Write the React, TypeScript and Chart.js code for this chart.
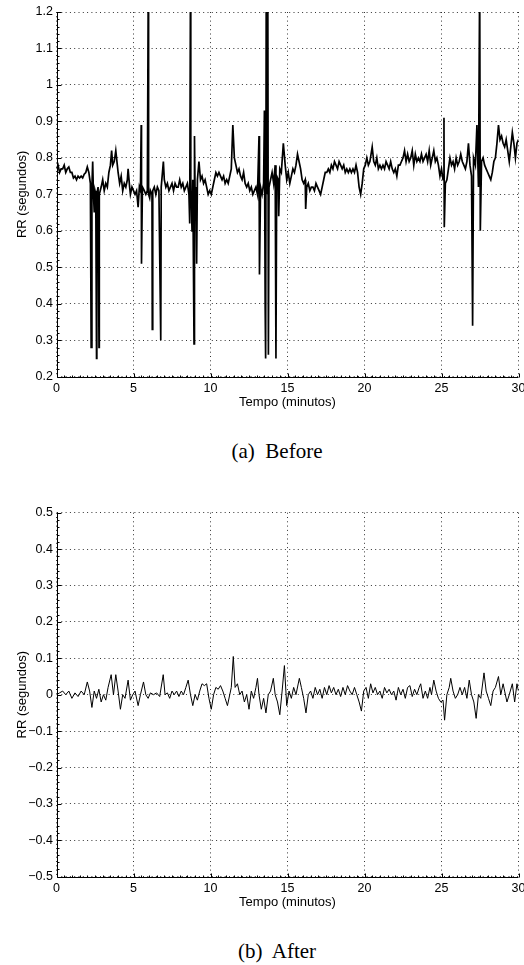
import React, { useEffect, useRef } from "react";
import { Chart, registerables } from "chart.js";

Chart.register(...registerables);

// ---------- DATA ----------
const xTickValues = [0, 5, 10, 15, 20, 25, 30];
const beforeYTicks = [0.2, 0.3, 0.4, 0.5, 0.6, 0.7, 0.8, 0.9, 1.0, 1.1, 1.2];
const afterYTicks = [-0.5, -0.4, -0.3, -0.2, -0.1, 0, 0.1, 0.2, 0.3, 0.4, 0.5];
const xAxisTitle = "Tempo (minutos)";
const yAxisTitle = "RR (segundos)";
const captionBefore = "(a)  Before";
const captionAfter = "(b)  After";

const beforeMinutes = [
  0.0, 0.1, 0.2, 0.3, 0.4, 0.5, 0.6, 0.7, 0.8, 0.9,
  1.0, 1.1, 1.2, 1.3, 1.4, 1.5, 1.6, 1.7, 1.8, 1.9,
  2.0, 2.1, 2.2, 2.25, 2.3, 2.35, 2.4, 2.45, 2.5, 2.55,
  2.6, 2.62, 2.7, 2.76, 2.78, 2.9, 3.0, 3.1, 3.2, 3.3,
  3.4, 3.5, 3.58, 3.65, 3.75, 3.85, 3.95, 4.0, 4.1, 4.2,
  4.3, 4.4, 4.5, 4.6, 4.65, 4.75, 4.8, 4.9, 5.0, 5.1,
  5.2, 5.3, 5.38, 5.45, 5.5, 5.52, 5.58, 5.7, 5.8, 5.9,
  5.96, 5.98, 6.05, 6.1, 6.2, 6.22, 6.25, 6.35, 6.45, 6.55,
  6.65, 6.77, 6.8, 6.94, 7.0, 7.1, 7.2, 7.3, 7.4, 7.5,
  7.6, 7.7, 7.8, 7.9, 8.0, 8.1, 8.2, 8.3, 8.4, 8.5,
  8.6, 8.65, 8.7, 8.72, 8.8, 8.85, 8.93, 8.96, 9.0, 9.05,
  9.1, 9.15, 9.25, 9.35, 9.45, 9.55, 9.65, 9.75, 9.85, 9.95,
  10.05, 10.15, 10.25, 10.35, 10.45, 10.55, 10.65, 10.75, 10.85, 10.95,
  11.05, 11.15, 11.25, 11.35, 11.45, 11.55, 11.65, 11.75, 11.85, 11.95,
  12.05, 12.15, 12.25, 12.35, 12.45, 12.55, 12.65, 12.75, 12.85, 12.95,
  13.05, 13.15, 13.18, 13.25, 13.35, 13.45, 13.5, 13.55, 13.58, 13.62,
  13.66, 13.72, 13.76, 13.8, 13.9, 14.0, 14.1, 14.2, 14.25, 14.3,
  14.4, 14.43, 14.5, 14.6, 14.73, 14.85, 14.95, 15.05, 15.15, 15.25,
  15.35, 15.45, 15.55, 15.65, 15.75, 15.85, 15.95, 16.05, 16.15, 16.18,
  16.25, 16.35, 16.45, 16.55, 16.65, 16.75, 16.85, 16.95, 17.05, 17.15,
  17.25, 17.35, 17.45, 17.55, 17.65, 17.75, 17.85, 17.95, 18.05, 18.15,
  18.25, 18.35, 18.45, 18.55, 18.65, 18.75, 18.85, 18.95, 19.05, 19.15,
  19.25, 19.35, 19.45, 19.55, 19.65, 19.75, 19.85, 19.95, 20.05, 20.15,
  20.25, 20.35, 20.5, 20.6, 20.7, 20.8, 20.9, 21.0, 21.1, 21.2,
  21.3, 21.4, 21.5, 21.6, 21.7, 21.8, 21.9, 22.0, 22.1, 22.2,
  22.3, 22.4, 22.5, 22.6, 22.7, 22.8, 22.9, 23.0, 23.1, 23.2,
  23.3, 23.4, 23.5, 23.6, 23.7, 23.8, 23.9, 24.0, 24.1, 24.2,
  24.3, 24.4, 24.5, 24.6, 24.7, 24.8, 24.9, 25.0, 25.1, 25.16,
  25.18, 25.25, 25.35, 25.45, 25.55, 25.65, 25.75, 25.85, 25.95, 26.05,
  26.15, 26.25, 26.35, 26.45, 26.55, 26.65, 26.75, 26.85, 26.95, 27.02,
  27.08, 27.2, 27.3, 27.4, 27.48, 27.52, 27.6, 27.7, 27.8, 27.9,
  28.0, 28.1, 28.2, 28.3, 28.4, 28.5, 28.6, 28.7, 28.8, 28.9,
  29.0, 29.1, 29.2, 29.3, 29.4, 29.5, 29.6, 29.7, 29.8, 29.9,
  30.0,
];

const beforeRR = [
  0.77, 0.78, 0.76, 0.77, 0.77, 0.78, 0.76, 0.77, 0.775, 0.76,
  0.76, 0.745, 0.75, 0.74, 0.75, 0.745, 0.75, 0.745, 0.755, 0.76,
  0.775, 0.76, 0.73, 0.28, 0.72, 0.79, 0.70, 0.65, 0.71, 0.70,
  0.25, 0.70, 0.72, 0.28, 0.70, 0.72, 0.74, 0.71, 0.73, 0.72,
  0.76, 0.78, 0.82, 0.78, 0.79, 0.82, 0.78, 0.76, 0.73, 0.75,
  0.71, 0.73, 0.72, 0.74, 0.77, 0.72, 0.70, 0.72, 0.71, 0.70,
  0.71, 0.665, 0.72, 0.71, 0.89, 0.51, 0.72, 0.71, 0.70, 0.71,
  1.3, 0.70, 0.69, 0.71, 0.70, 0.33, 0.71, 0.72, 0.70, 0.72,
  0.71, 0.30, 0.72, 0.79, 0.74, 0.72, 0.73, 0.71, 0.72, 0.73,
  0.71, 0.73, 0.72, 0.72, 0.74, 0.72, 0.73, 0.71, 0.72, 0.73,
  0.70, 0.62, 1.3, 0.74, 0.60, 0.74, 0.29, 0.86, 0.70, 0.72,
  0.51, 0.74, 0.79, 0.74, 0.75, 0.73, 0.74, 0.72, 0.70, 0.71,
  0.70, 0.72, 0.74, 0.76, 0.75, 0.76, 0.75, 0.74, 0.75, 0.73,
  0.74, 0.73, 0.75, 0.77, 0.89, 0.80, 0.78, 0.76, 0.77, 0.75,
  0.74, 0.76, 0.73, 0.72, 0.73, 0.71, 0.72, 0.70, 0.71, 0.72,
  0.70, 0.86, 0.48, 0.72, 0.70, 0.73, 0.93, 0.39, 0.25, 1.3,
  0.70, 1.3, 0.26, 0.72, 0.74, 0.76, 0.73, 0.78, 0.25, 0.75,
  0.74, 0.64, 0.77, 0.76, 0.84, 0.78, 0.74, 0.76, 0.73, 0.75,
  0.77, 0.76, 0.78, 0.81, 0.79, 0.77, 0.74, 0.73, 0.74, 0.66,
  0.72, 0.73, 0.71, 0.72, 0.72, 0.71, 0.73, 0.72, 0.71, 0.70,
  0.72, 0.74, 0.76, 0.76, 0.77, 0.76, 0.78, 0.77, 0.79, 0.78,
  0.77, 0.79, 0.78, 0.77, 0.78, 0.76, 0.77, 0.76, 0.77, 0.76,
  0.77, 0.76, 0.78, 0.76, 0.72, 0.70, 0.73, 0.77, 0.78, 0.80,
  0.78, 0.79, 0.83, 0.79, 0.78, 0.80, 0.77, 0.78, 0.77, 0.78,
  0.77, 0.79, 0.78, 0.77, 0.79, 0.77, 0.76, 0.77, 0.75, 0.78,
  0.78, 0.79, 0.80, 0.82, 0.79, 0.81, 0.79, 0.80, 0.82, 0.78,
  0.81, 0.79, 0.80, 0.79, 0.81, 0.79, 0.80, 0.81, 0.79, 0.82,
  0.78, 0.80, 0.82, 0.79, 0.80, 0.78, 0.75, 0.77, 0.74, 0.91,
  0.61, 0.73, 0.74, 0.77, 0.80, 0.78, 0.79, 0.77, 0.80, 0.78,
  0.79, 0.81, 0.79, 0.78, 0.77, 0.79, 0.84, 0.78, 0.75, 0.34,
  0.80, 0.78, 0.89, 0.72, 1.3, 0.60, 0.79, 0.80, 0.78, 0.77,
  0.76, 0.75, 0.74, 0.76, 0.79, 0.80, 0.84, 0.89, 0.85, 0.86,
  0.84, 0.83, 0.85, 0.82, 0.79, 0.83, 0.87, 0.84, 0.80, 0.84,
  0.85,
];

const afterMinutes = [
  0.0, 0.2, 0.4, 0.6, 0.8, 1.0, 1.2, 1.4, 1.6, 1.8,
  2.0, 2.15, 2.3, 2.45, 2.6, 2.75, 2.9, 3.05, 3.2, 3.35,
  3.55, 3.7, 3.85, 4.0, 4.15, 4.3, 4.45, 4.65, 4.8, 4.95,
  5.1, 5.3, 5.45, 5.65, 5.8, 5.95, 6.1, 6.3, 6.5, 6.7,
  6.93, 7.05, 7.2, 7.35, 7.5, 7.65, 7.8, 7.95, 8.1, 8.25,
  8.4, 8.55, 8.7, 8.85, 9.0, 9.15, 9.3, 9.45, 9.6, 9.75,
  9.9, 10.05, 10.2, 10.35, 10.5, 10.65, 10.8, 10.95, 11.1, 11.25,
  11.35, 11.48, 11.6, 11.75, 11.9, 12.05, 12.2, 12.35, 12.5, 12.65,
  12.8, 12.95, 13.05, 13.15, 13.3, 13.45, 13.6, 13.75, 13.9, 14.08,
  14.2, 14.35, 14.5, 14.65, 14.8, 14.95, 15.1, 15.25, 15.4, 15.55,
  15.77, 15.9, 16.05, 16.2, 16.35, 16.5, 16.65, 16.8, 16.95, 17.1,
  17.25, 17.4, 17.55, 17.7, 17.85, 18.0, 18.15, 18.3, 18.45, 18.6,
  18.75, 18.9, 19.05, 19.2, 19.35, 19.5, 19.65, 19.8, 19.95, 20.1,
  20.25, 20.4, 20.55, 20.7, 20.85, 21.0, 21.15, 21.3, 21.45, 21.6,
  21.75, 21.9, 22.05, 22.2, 22.35, 22.5, 22.65, 22.8, 22.95, 23.1,
  23.25, 23.4, 23.55, 23.65, 23.8, 23.95, 24.1, 24.25, 24.35, 24.5,
  24.65, 24.8, 24.95, 25.1, 25.2, 25.35, 25.5, 25.6, 25.75, 25.9,
  26.05, 26.2, 26.35, 26.5, 26.65, 26.8, 26.95, 27.1, 27.25, 27.4,
  27.55, 27.76, 27.9, 28.05, 28.2, 28.35, 28.5, 28.7, 28.85, 29.0,
  29.1, 29.25, 29.4, 29.6, 29.75, 29.9, 30.0,
];

const afterRR = [
  0.0, 0.005, 0.01, 0.0, 0.01, -0.01, 0.005, -0.005, 0.01, 0.0,
  0.035, 0.01, -0.035, 0.01, -0.01, 0.015, -0.02, 0.0, -0.015, 0.02,
  0.055, 0.0, 0.055, 0.01, -0.04, 0.0, -0.01, 0.04, -0.015, 0.0,
  0.01, -0.03, 0.0, 0.035, 0.0, -0.01, 0.005, 0.0, 0.005, -0.005,
  0.055, 0.0, 0.005, -0.01, 0.01, 0.0, 0.01, -0.005, 0.01, 0.0,
  0.02, 0.04, 0.0, -0.03, 0.0, -0.015, 0.01, 0.03, 0.025, 0.03,
  -0.01, -0.04, 0.0, 0.02, 0.015, 0.025, 0.01, -0.01, -0.03, 0.0,
  0.02, 0.105, 0.02, 0.03, 0.0, 0.01, -0.02, 0.0, -0.04, 0.01,
  -0.01, 0.02, 0.045, 0.0, -0.04, -0.01, -0.05, 0.0, 0.01, 0.045,
  0.0, -0.02, -0.055, 0.01, 0.08, -0.03, 0.01, -0.01, 0.02, 0.0,
  0.045, 0.02, -0.01, -0.05, 0.0, 0.01, -0.01, 0.02, 0.0, 0.015,
  -0.01, 0.02, 0.0, 0.025, 0.005, 0.02, 0.0, 0.015, -0.005, 0.02,
  0.0, 0.025, 0.01, 0.0, 0.02, 0.0, -0.02, -0.045, 0.01, 0.02,
  -0.01, 0.03, 0.005, 0.02, 0.0, 0.01, -0.01, 0.02, 0.005, 0.015,
  0.0, 0.01, -0.015, 0.02, 0.0, 0.015, -0.01, 0.02, 0.025, -0.005,
  0.015, 0.0, 0.02, 0.03, -0.01, 0.01, -0.01, 0.02, 0.0, 0.04,
  0.01, -0.01, -0.02, -0.015, -0.07, 0.0, 0.02, 0.045, 0.01, -0.01,
  0.0, 0.02, 0.0, 0.02, -0.01, 0.04, 0.0, -0.02, -0.065, 0.0,
  -0.01, 0.06, 0.01, -0.01, -0.03, 0.01, 0.02, 0.05, 0.0, 0.03,
  0.01, -0.02, 0.0, 0.03, -0.02, 0.03, 0.01,
];

// ---------- STYLE ----------
const SANS = "'Liberation Sans', Arial, Helvetica, sans-serif";
const SERIF = "'Liberation Serif', 'Times New Roman', Times, serif";
const CANVAS_W = 524;
const CANVAS_H = 420;

function formatTick(v: number): string {
  const r = Math.round(v * 10) / 10;
  const s = String(r);
  return s.replace("-", "\u2212");
}

const axisPlugin = {
  id: "matlabAxes",
  afterDraw(chart: any) {
    const { ctx, chartArea, scales } = chart;
    const { left, right, top, bottom } = chartArea;
    const x = scales.x;
    const y = scales.y;
    const L = Math.round(left) + 0.5;
    const B = Math.round(bottom) + 0.5;
    ctx.save();
    ctx.strokeStyle = "#000";
    ctx.lineWidth = 1;
    ctx.setLineDash([]);
    ctx.beginPath();
    ctx.moveTo(L, top);
    ctx.lineTo(L, B);
    ctx.lineTo(right, B);
    ctx.stroke();
    const xMinorStep = chart.options.plugins.matlabAxes.xMinor;
    const yMinorStep = chart.options.plugins.matlabAxes.yMinor;
    const xMajorStep = chart.options.plugins.matlabAxes.xMajor;
    const yMajorStep = chart.options.plugins.matlabAxes.yMajor;
    ctx.beginPath();
    const nx = Math.round((x.max - x.min) / xMinorStep);
    for (let i = 0; i <= nx; i++) {
      const v = x.min + i * xMinorStep;
      const px = Math.round(x.getPixelForValue(v)) + 0.5;
      const isMajor = Math.abs(v / xMajorStep - Math.round(v / xMajorStep)) < 1e-6;
      const len = isMajor ? 4 : 2;
      ctx.moveTo(px, B);
      ctx.lineTo(px, B - len);
    }
    const ny = Math.round((y.max - y.min) / yMinorStep);
    for (let i = 0; i <= ny; i++) {
      const v = y.min + i * yMinorStep;
      const py = Math.round(y.getPixelForValue(v)) + 0.5;
      const q = (v - y.min) / yMajorStep;
      const isMajor = Math.abs(q - Math.round(q)) < 1e-6;
      const len = isMajor ? 4 : 2;
      ctx.moveTo(L, py);
      ctx.lineTo(L + len, py);
    }
    ctx.stroke();
    ctx.restore();
  },
};

function buildConfig(
  times: number[],
  values: number[],
  yTicks: number[],
  lineWidth: number,
  padTop: number
): any {
  const points = times.map((t, i) => ({ x: t, y: values[i] }));
  const gridStyle = {
    display: true,
    color: "rgba(0,0,0,0.8)",
    lineWidth: 1,
    drawTicks: false,
    tickLength: 0,
  };
  const border = { display: false, color: "#000", width: 1, dash: [1, 3.3] };
  return {
    type: "line",
    data: {
      datasets: [
        {
          data: points,
          borderColor: "#000",
          borderWidth: lineWidth,
          pointRadius: 0,
          tension: 0,
          fill: false,
        },
      ],
    },
    plugins: [axisPlugin],
    options: {
      responsive: false,
      animation: false,
      events: [],
      layout: { padding: { top: padTop, right: 5.5, left: 0, bottom: 0 } },
      plugins: {
        legend: { display: false },
        tooltip: { enabled: false },
        matlabAxes: {
          xMinor: 0.5,
          xMajor: 5,
          yMinor: 0.02,
          yMajor: 0.1,
        },
      },
      scales: {
        x: {
          type: "linear",
          min: xTickValues[0],
          max: xTickValues[xTickValues.length - 1],
          afterBuildTicks: (s: any) => {
            s.ticks = xTickValues.map((v) => ({ value: v }));
          },
          afterFit: (s: any) => {
            s.height = CANVAS_H - 376.7 + 12 - padTop + (padTop - 12);
            s.paddingLeft = 0;
            s.paddingRight = 0;
          },
          grid: gridStyle,
          border,
          ticks: {
            color: "#000",
            font: { family: SANS, size: 12.5 },
            padding: 4,
            maxRotation: 0,
            autoSkip: false,
            callback: (v: number) => formatTick(v),
          },
          title: {
            display: true,
            text: xAxisTitle,
            color: "#000",
            font: { family: SANS, size: 13 },
            padding: { top: 0, bottom: 10.2 },
          },
        },
        y: {
          type: "linear",
          min: yTicks[0],
          max: yTicks[yTicks.length - 1],
          afterBuildTicks: (s: any) => {
            s.ticks = yTicks.map((v) => ({ value: v }));
          },
          afterFit: (s: any) => {
            s.width = 56.5;
            s.paddingTop = 0;
            s.paddingBottom = 0;
          },
          grid: gridStyle,
          border,
          ticks: {
            color: "#000",
            font: { family: SANS, size: 12.5 },
            padding: 3.5,
            autoSkip: false,
            callback: (v: number) => formatTick(v),
          },
          title: {
            display: true,
            text: yAxisTitle,
            color: "#000",
            font: { family: SANS, size: 13 },
            padding: { top: 14.2, bottom: 0 },
          },
        },
      },
    },
  };
}

function Panel(props: {
  top: number;
  times: number[];
  values: number[];
  yTicks: number[];
  lineWidth: number;
  padTop: number;
}) {
  const ref = useRef<HTMLCanvasElement | null>(null);
  useEffect(() => {
    if (!ref.current) return;
    const chart = new Chart(
      ref.current,
      buildConfig(props.times, props.values, props.yTicks, props.lineWidth, props.padTop)
    );
    return () => chart.destroy();
  }, []);
  return (
    <canvas
      ref={ref}
      width={CANVAS_W}
      height={CANVAS_H}
      style={{
        position: "absolute",
        left: 0,
        top: props.top,
        width: CANVAS_W,
        height: CANVAS_H,
      }}
    />
  );
}

function Caption(props: { text: string; cy: number }) {
  return (
    <div
      style={{
        position: "absolute",
        left: 277,
        top: props.cy,
        transform: "translate(-50%, -50%)",
        fontFamily: SERIF,
        fontSize: 21,
        lineHeight: 1,
        whiteSpace: "pre",
        color: "#000",
      }}
    >
      {props.text}
    </div>
  );
}

export default function App() {
  return (
    <div
      style={{
        position: "absolute",
        left: 0,
        top: 0,
        width: 524,
        height: 965,
        background: "#fff",
        overflow: "hidden",
      }}
    >
      <Panel top={0} times={beforeMinutes} values={beforeRR} yTicks={beforeYTicks} lineWidth={1.7} padTop={12} />
      <Caption text={captionBefore} cy={451} />
      <Panel top={500} times={afterMinutes} values={afterRR} yTicks={afterYTicks} lineWidth={1} padTop={12.7} />
      <Caption text={captionAfter} cy={951} />
    </div>
  );
}
